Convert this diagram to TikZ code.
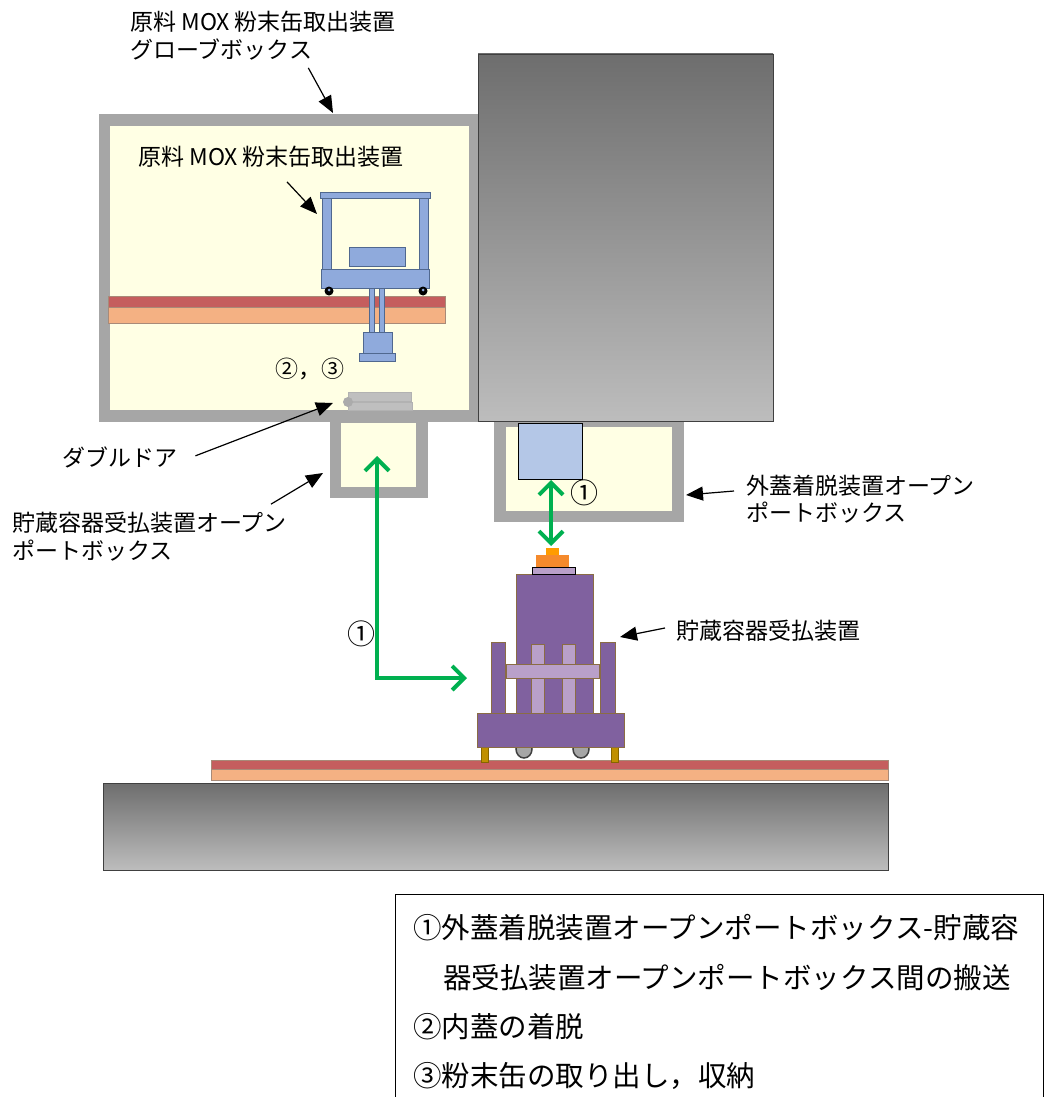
\documentclass[tikz,border=0pt]{standalone}
\usepackage{fontspec}
\setmainfont{Noto Sans CJK JP}
\usetikzlibrary{arrows.meta}

\definecolor{wallgray}{HTML}{A6A6A6}
\definecolor{cream}{HTML}{FFFFE4}
\definecolor{railred}{HTML}{C55E5E}
\definecolor{railorange}{HTML}{F4B183}
\definecolor{railedge}{HTML}{A88A78}
\definecolor{devblue}{HTML}{8FAADC}
\definecolor{devedge}{HTML}{50688F}
\definecolor{lidblue}{HTML}{B4C7E7}
\definecolor{podpurple}{HTML}{80619F}
\definecolor{podedge}{HTML}{8A6C44}
\definecolor{lilac}{HTML}{B9A0C9}
\definecolor{capor}{HTML}{F58A2C}
\definecolor{captop}{HTML}{FF9C00}
\definecolor{leggold}{HTML}{C09000}
\definecolor{flowgreen}{HTML}{00B050}

\begin{document}
\begin{tikzpicture}[x=1pt, y=-1pt,
	every node/.style={font=\fontsize{23}{28}\selectfont, inner sep=0pt},
	lbl/.style={anchor=west},
	note/.style={anchor=west, font=\fontsize{28.5}{34}\selectfont},
	num/.style={font=\fontsize{28}{32}\selectfont},
	pointer/.style={line width=1.2pt, -{Triangle[length=17pt,width=14pt]}},
	flow/.style={draw=flowgreen, line width=4pt, arrows={Straight Barb[length=12pt,width=24pt]-Straight Barb[length=12pt,width=24pt]}},
	dev/.style={fill=devblue, draw=devedge, line width=0.6pt},
	pod/.style={fill=podpurple, draw=podedge, line width=0.8pt},
	bar/.style={fill=lilac, draw=podedge, line width=0.8pt},
	rail/.style={draw=railedge, line width=0.6pt}]
	\useasboundingbox (0,0) rectangle (1046,1097);

	% glove box and open port boxes
	\fill[wallgray] (99,114) rectangle (478,422);
	\fill[cream] (110,126) rectangle (469,410);
	\fill[wallgray] (330,410) rectangle (428,498);
	\fill[cream] (341,423) rectangle (416,487);
	\fill[wallgray] (494,415) rectangle (684,522);
	\fill[cream] (506,427) rectangle (672,511);
	\shade[top color=black!57, bottom color=black!26, draw=black!75, line width=0.8pt] (478,54) rectangle (773,421);
	\draw[fill=lidblue, draw=black, line width=1pt] (518,423) rectangle (582,479);

	% rail and can removal unit
	\fill[railred, rail] (108,296) rectangle (445,307);
	\fill[railorange, rail] (108,307) rectangle (445,323);
	\draw[dev] (322,198) rectangle (331,269);
	\draw[dev] (419,198) rectangle (428,269);
	\draw[dev] (320,192) rectangle (430,198);
	\draw[dev] (349,247) rectangle (405,266);
	\draw[dev] (321,269) rectangle (429,288);
	\foreach \wx in {329,423} {
		\fill[black] (\wx,291) circle[radius=4.5];
		\fill[devblue] (\wx,290) circle[radius=1.5];
	}
	\draw[dev] (369,288) rectangle (374,332);
	\draw[dev] (379,288) rectangle (384,332);
	\draw[dev] (363,332) rectangle (392,353);
	\draw[dev] (359,353) rectangle (395,361);

	% double door
	\draw[fill=black!25, draw=black!30] (348,392) rectangle (411,401);
	\draw[fill=black!25, draw=black!30] (348,402) rectangle (412,410);
	\fill[black!33] (348,402) circle[radius=5];

	% floor and storage container transfer unit
	\shade[top color=black!57, bottom color=black!26, draw=black!75, line width=0.8pt] (103,783) rectangle (888,870);
	\fill[railred, rail] (211,760) rectangle (888,769);
	\fill[railorange, rail] (211,769) rectangle (888,780);
	\foreach \wx in {524,581} {
		\draw[fill=wallgray, draw=black!75, line width=1.5pt] (\wx,749) ellipse[x radius=8, y radius=9];
	}
	\draw[fill=leggold, draw=leggold!70!black] (481,745) rectangle (488,762);
	\draw[fill=leggold, draw=leggold!70!black] (611,745) rectangle (618,762);
	\draw[pod] (477,713) rectangle (624,747);
	\draw[pod] (516,574) rectangle (593,713);
	\draw[pod] (491,642) rectangle (505,713);
	\draw[pod] (600,642) rectangle (615,713);
	\draw[bar] (531,644) rectangle (544,713);
	\draw[bar] (562,644) rectangle (575,713);
	\draw[bar] (506,664) rectangle (599,678);
	\draw[fill=lilac, draw=black, line width=1pt] (532,567) rectangle (575,574);
	\fill[capor] (536,555) rectangle (569,567);
	\fill[captop] (546,548) rectangle (559,555);

	% transfer routes
	\coordinate (leftPort) at (377,456);
	\coordinate (leftBend) at (377,678);
	\coordinate (podSide) at (467,678);
	\coordinate (rightPort) at (551,480);
	\coordinate (podTop) at (551,546);
	\draw[flow] (leftPort) -- (leftBend) -- (podSide);
	\draw[flow] (rightPort) -- (podTop);
	\node[num] (stepA) at (361,634) {①};
	\node[num] (stepB) at (584,493) {①};
	\node (stepCD) at (310,369) {②，③};

	% labels
	\node[lbl] (gbName) at (130,22) {原料 MOX 粉末缶取出装置};
	\node[lbl] (gbKind) at (130,50) {グローブボックス};
	\node[lbl] (unitName) at (138,157) {原料 MOX 粉末缶取出装置};
	\node[lbl] (doorName) at (62,457) {ダブルドア};
	\node[lbl] (leftBoxA) at (12,523) {貯蔵容器受払装置オープン};
	\node[lbl] (leftBoxB) at (12,551) {ポートボックス};
	\node[lbl] (rightBoxA) at (746,486) {外蓋着脱装置オープン};
	\node[lbl] (rightBoxB) at (746,513) {ポートボックス};
	\node[lbl] (podName) at (676,631) {貯蔵容器受払装置};

	\coordinate (gbTip) at (333,113);
	\coordinate (unitTip) at (317,214);
	\coordinate (doorTip) at (333,403);
	\coordinate (leftBoxTip) at (323,473);
	\coordinate (rightBoxTip) at (686,495);
	\coordinate (podTip) at (620,637);
	\draw[pointer] ([shift={(-4,7)}]gbKind.south east) -- (gbTip);
	\draw[pointer] ([shift={(149,14)}]unitName.south west) -- (unitTip);
	\draw[pointer] ([shift={(18,-12)}]doorName.south east) -- (doorTip);
	\draw[pointer] ([shift={(-16,-8)}]leftBoxA.north east) -- (leftBoxTip);
	\draw[pointer] ([shift={(-12,5)}]rightBoxA.west) -- (rightBoxTip);
	\draw[pointer] ([shift={(-11,-3)}]podName.west) -- (podTip);

	% legend
	\draw[line width=1pt] (395,1100) -- (395,894) -- (1043,894) -- (1043,1100);
	\node[note] (noteA) at (413,928) {①外蓋着脱装置オープンポートボックス-貯蔵容};
	\node[note] (noteB) at (443,978) {器受払装置オープンポートボックス間の搬送};
	\node[note] (noteC) at (413,1027) {②内蓋の着脱};
	\node[note] (noteD) at (413,1076) {③粉末缶の取り出し，収納};
\end{tikzpicture}
\end{document}
